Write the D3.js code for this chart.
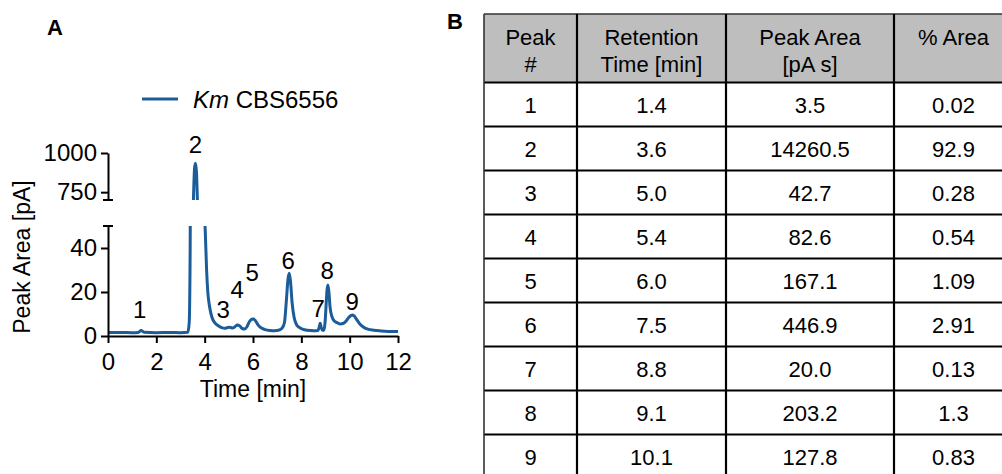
<!DOCTYPE html>
<html>
<head>
<meta charset="utf-8">
<script src="https://cdn.jsdelivr.net/npm/d3@7"></script>
<style>
  html, body { margin: 0; padding: 0; background: #fff; }
  svg { display: block; font-family: "Liberation Sans", Arial, sans-serif; }
</style>
</head>
<body>
<svg id="fig" width="1002" height="474"></svg>
<script>
// ---- Chromatogram trace (retention time in min, detector signal in pA) ----
const traceTime = [0, 0.5, 1.0, 1.25, 1.37, 1.5, 2.0, 2.5, 3.0, 3.3, 3.36, 3.4, 3.44, 3.49, 3.54, 3.58, 3.62, 3.66, 3.71, 3.78, 3.86, 3.93, 3.98, 4.03, 4.08, 4.13, 4.2, 4.3, 4.42, 4.55, 4.7, 4.85, 4.95, 5.05, 5.15, 5.25, 5.35, 5.45, 5.55, 5.65, 5.75, 5.85, 5.95, 6.02, 6.1, 6.2, 6.35, 6.5, 6.7, 6.9, 7.05, 7.2, 7.3, 7.38, 7.45, 7.5, 7.55, 7.62, 7.7, 7.8, 7.9, 8.05, 8.25, 8.5, 8.68, 8.74, 8.78, 8.82, 8.87, 8.93, 8.98, 9.02, 9.06, 9.1, 9.14, 9.19, 9.26, 9.35, 9.46, 9.6, 9.75, 9.88, 9.98, 10.06, 10.13, 10.2, 10.3, 10.42, 10.55, 10.75, 11.0, 11.3, 11.6, 12.0];
const traceSignal = [1.6, 1.6, 1.5, 1.6, 2.5, 1.7, 1.5, 1.6, 1.5, 1.7, 6, 40, 150, 420, 730, 900, 935, 880, 650, 380, 190, 95, 62, 46, 30, 20, 13.5, 8.5, 6, 4.8, 3.8, 3.5, 3.9, 4.0, 3.6, 4.2, 5.0, 4.6, 3.4, 3.2, 4.2, 6.5, 7.6, 7.7, 7.0, 5.2, 3.6, 2.9, 2.5, 2.4, 2.6, 3.5, 6, 16, 26, 28.5, 25, 15, 8.5, 5.2, 4.0, 3.1, 2.6, 2.4, 2.5, 4, 5.8, 4, 2.6, 2.6, 6, 13, 20.5, 23.2, 20, 13, 9, 7, 6.2, 5.5, 5.8, 7.2, 8.6, 9.4, 9.6, 9.0, 7.3, 5.5, 4.2, 3.1, 2.6, 2.3, 2.1, 2.0];

// ---- Peak annotations (label anchor in data units) ----
const peakNumbers = ["1", "2", "3", "4", "5", "6", "7", "8", "9"];
const peakLabelTime = [1.31, 3.62, 4.77, 5.35, 5.97, 7.46, 8.7, 9.07, 10.1];
const peakLabelLevel = [8.2, 1000, 8.2, 17.3, 25, 30.5, 8.6, 26, 11.8];
const peakLabelOnUpper = [false, true, false, false, false, false, false, false, false];

// ---- Axis ticks ----
const xTicks = [0, 2, 4, 6, 8, 10, 12];
const yLowTicks = [0, 20, 40];
const yHighTicks = [750, 1000];
const xDomain = [0, 12];
const yLowDomain = [0, 50];
const yHighDomain = [700, 1000];

const seriesName = "CBS6556";
const seriesSpecies = "Km";

// ---- Peak table ----
const tableHeader = [["Peak", "#"], ["Retention", "Time [min]"], ["Peak Area", "[pA s]"], ["% Area"]];
const tablePeak = ["1", "2", "3", "4", "5", "6", "7", "8", "9"];
const tableRetention = ["1.4", "3.6", "5.0", "5.4", "6.0", "7.5", "8.8", "9.1", "10.1"];
const tableArea = ["3.5", "14260.5", "42.7", "82.6", "167.1", "446.9", "20.0", "203.2", "127.8"];
const tablePercent = ["0.02", "92.9", "0.28", "0.54", "1.09", "2.91", "0.13", "1.3", "0.83"];

const LINE = "#1b5c9b";
const svg = d3.select("#fig");

// ================= Panel A: split-axis chromatogram =================
const x = d3.scaleLinear(xDomain, [108, 398]);
const yLow = d3.scaleLinear(yLowDomain, [336, 226]);
const yHigh = d3.scaleLinear(yHighDomain, [200, 153]);
const tickFont = 24;
const titleFont = 23;

const points = traceTime.map((t, i) => [t, traceSignal[i]]);

const defs = svg.append("defs");
defs.append("clipPath").attr("id", "clipLow").append("rect")
  .attr("x", x(xDomain[0])).attr("y", yLow(yLowDomain[1]))
  .attr("width", x(xDomain[1]) - x(xDomain[0]) + 2)
  .attr("height", yLow(yLowDomain[0]) - yLow(yLowDomain[1]) + 4);
defs.append("clipPath").attr("id", "clipHigh").append("rect")
  .attr("x", x(xDomain[0])).attr("y", yHigh(yHighDomain[1]) - 4)
  .attr("width", x(xDomain[1]) - x(xDomain[0]))
  .attr("height", yHigh(yHighDomain[0]) - yHigh(yHighDomain[1]) + 4);

const lineLow = d3.line().x(d => x(d[0])).y(d => yLow(d[1])).curve(d3.curveMonotoneX);
const lineHigh = d3.line().x(d => x(d[0])).y(d => yHigh(d[1])).curve(d3.curveMonotoneX);

svg.append("path").datum(points).attr("d", lineLow)
  .attr("clip-path", "url(#clipLow)")
  .attr("fill", "none").attr("stroke", LINE).attr("stroke-width", 3).attr("stroke-linejoin", "round");
svg.append("path").datum(points).attr("d", lineHigh)
  .attr("clip-path", "url(#clipHigh)")
  .attr("fill", "none").attr("stroke", LINE).attr("stroke-width", 3).attr("stroke-linejoin", "round");

function styleAxis(g) {
  g.selectAll("path.domain").attr("stroke", "#000").attr("stroke-width", 2);
  g.selectAll(".tick line").attr("stroke", "#000").attr("stroke-width", 2);
  g.selectAll(".tick text").attr("fill", "#000")
    .attr("font-size", tickFont).attr("font-family", "Liberation Sans, Arial, sans-serif");
  g.attr("font-size", null).attr("font-family", null);
}

// x axis
const gx = svg.append("g").attr("transform", `translate(0,${yLow(0)})`)
  .call(d3.axisBottom(x).tickValues(xTicks).tickFormat(d3.format("d"))
    .tickSize(7).tickSizeOuter(0).tickPadding(10));
styleAxis(gx);
gx.selectAll(".tick text").attr("dy", "0.69em");

// lower y segment
const gyl = svg.append("g").attr("transform", `translate(${x(0)},0)`)
  .call(d3.axisLeft(yLow).tickValues(yLowTicks).tickFormat(d3.format("d"))
    .tickSize(7).tickSizeOuter(0).tickPadding(4));
styleAxis(gyl);

// upper y segment
const gyh = svg.append("g").attr("transform", `translate(${x(0)},0)`)
  .call(d3.axisLeft(yHigh).tickValues(yHighTicks).tickFormat(d3.format("d"))
    .tickSize(7).tickSizeOuter(0).tickPadding(4));
styleAxis(gyh);

// break caps at the ends of the two segments
[yHigh(yHighDomain[0]), yLow(yLowDomain[1])].forEach(yy => {
  svg.append("line").attr("x1", x(0) - 5).attr("x2", x(0) + 5)
    .attr("y1", yy).attr("y2", yy).attr("stroke", "#000").attr("stroke-width", 2);
});

// axis titles
svg.append("text").attr("x", (x(xDomain[0]) + x(xDomain[1])) / 2).attr("y", 397)
  .attr("text-anchor", "middle").attr("font-size", titleFont).text("Time [min]");
svg.append("text").attr("transform", "translate(30,257) rotate(-90)")
  .attr("text-anchor", "middle").attr("font-size", titleFont).text("Peak Area [pA]");

// peak numbers
svg.append("g").selectAll("text").data(peakNumbers).join("text")
  .attr("x", (d, i) => x(peakLabelTime[i]))
  .attr("y", (d, i) => peakLabelOnUpper[i] ? yHigh(peakLabelLevel[i]) : yLow(peakLabelLevel[i]))
  .attr("text-anchor", "middle").attr("font-size", tickFont).text(d => d);

// legend
const lg = svg.append("g");
lg.append("line").attr("x1", 142).attr("x2", 178).attr("y1", 99).attr("y2", 99)
  .attr("stroke", LINE).attr("stroke-width", 3);
const lt = lg.append("text").attr("x", 193).attr("y", 108).attr("font-size", tickFont);
lt.append("tspan").attr("font-style", "italic").text(seriesSpecies);
lt.append("tspan").text(" " + seriesName);

// panel letters
svg.append("text").attr("x", 47).attr("y", 35).attr("font-size", 22).attr("font-weight", "bold").text("A");
svg.append("text").attr("x", 447).attr("y", 29).attr("font-size", 22).attr("font-weight", "bold").text("B");

// ================= Panel B: peak table =================
const colEdges = [484, 577, 726, 894, 1013];
const tableTop = 14, headerBottom = 82.5, rowH = 44;
const rows = tablePeak.map((p, i) => [p, tableRetention[i], tableArea[i], tablePercent[i]]);
const tableBottom = headerBottom + rowH * rows.length;
const tb = svg.append("g");
const tableFont = 22;

tb.append("rect").attr("x", colEdges[0]).attr("y", tableTop)
  .attr("width", colEdges[4] - colEdges[0]).attr("height", headerBottom - tableTop)
  .attr("fill", "#bebebe");

const colMid = i => (colEdges[i] + colEdges[i + 1]) / 2;

tb.selectAll("text.head").data(tableHeader).join("text").attr("class", "head")
  .attr("text-anchor", "middle").attr("font-size", tableFont)
  .each(function (lines, i) {
    d3.select(this).selectAll("tspan").data(lines).join("tspan")
      .attr("x", colMid(i)).attr("y", (d, j) => 45 + j * 27).text(d => d);
  });

rows.forEach((r, ri) => {
  const cy = headerBottom + rowH * ri + rowH / 2;
  tb.selectAll(null).data(r).join("text")
    .attr("x", (d, ci) => colMid(ci)).attr("y", cy + 8)
    .attr("text-anchor", "middle").attr("font-size", tableFont).text(d => d);
});

// grid lines
for (let i = 0; i <= rows.length; i++) {
  const yy = headerBottom + rowH * i;
  tb.append("line").attr("x1", colEdges[0]).attr("x2", colEdges[4]).attr("y1", yy).attr("y2", yy)
    .attr("stroke", "#000").attr("stroke-width", 2.2);
}
tb.append("line").attr("x1", colEdges[0]).attr("x2", colEdges[4]).attr("y1", tableTop).attr("y2", tableTop)
  .attr("stroke", "#333").attr("stroke-width", 1.6);
colEdges.forEach((cx, i) => {
  tb.append("line").attr("x1", cx).attr("x2", cx).attr("y1", tableTop).attr("y2", tableBottom)
    .attr("stroke", i === 0 ? "#333" : "#000").attr("stroke-width", i === 0 ? 1.6 : 2.2);
});
</script>
</body>
</html>
